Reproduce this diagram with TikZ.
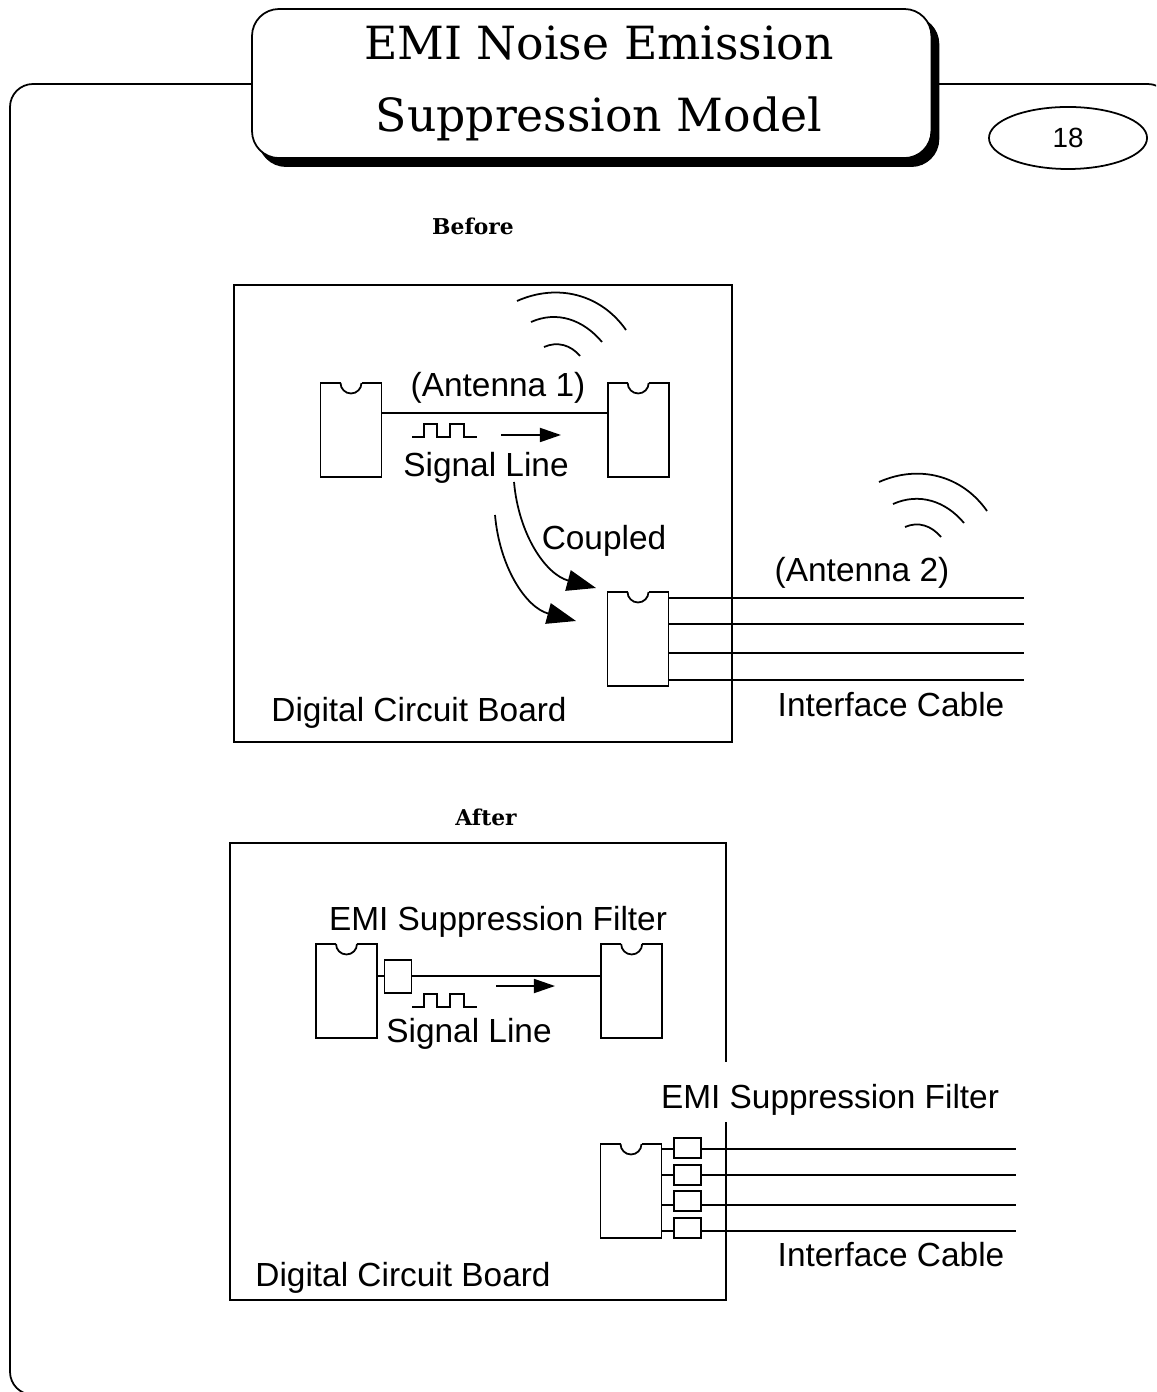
\documentclass[tikz,border=0pt]{standalone}
\usepackage{fontspec}
\setmainfont{Liberation Sans}
\newfontfamily\titlefont{DejaVu Serif}
\usetikzlibrary{positioning,arrows.meta,shadows,shapes.geometric}

\begin{document}
\begin{tikzpicture}[
  x=0.01cm, y=0.01cm,
  line width=0.5pt,
  node distance=0.07cm and 2.26cm,
  frame/.style={draw, rounded corners=0.23cm, outer sep=0, anchor=north west},
  titlebox/.style={draw, fill=white, rounded corners=0.27cm, outer sep=0, anchor=north west, minimum width=6.79cm, minimum height=1.49cm, inner sep=0,
    copy shadow={shadow xshift=0.07cm, shadow yshift=-0.08cm, fill=black, draw=black}},
  titletext/.style={inner sep=0, outer sep=0, align=center, font=\titlefont\fontsize{13}{20.5}\selectfont},
  pageoval/.style={draw, ellipse, outer sep=0, minimum width=1.58cm, minimum height=0.62cm, inner sep=0, font=\fontsize{7.9}{9}\selectfont},
  board/.style={draw, outer sep=0, anchor=north west, minimum height=4.57cm},
  chip/.style={draw, fill=white, outer sep=0, minimum width=0.61cm, minimum height=0.94cm},
  filterbox/.style={draw, fill=white, inner sep=0, outer sep=0, minimum width=0.27cm, minimum height=0.2cm},
  label/.style={inner sep=0, outer sep=0, anchor=base, font=\fontsize{9.5}{11}\selectfont},
  head/.style={inner sep=0, outer sep=0, anchor=base, font=\titlefont\bfseries\fontsize{6.2}{8}\selectfont},
  flow/.style={-{Triangle[length=0.21cm, width=0.14cm]}},
  coupling/.style={-{Triangle[length=0.29cm, width=0.21cm]}},
  pulse/.pic={\draw (0,0) -- ++(12,0) -- ++(0,13) -- ++(13,0) -- ++(0,-13) -- ++(13,0) -- ++(0,13) -- ++(14,0) -- ++(0,-13) -- ++(13,0);}
]
\useasboundingbox (0,0) rectangle (1156,-1392);
\clip (0,0) rectangle (1156,-1392);

\node[frame, minimum width=11.6cm, minimum height=13.1cm] (outline) at (10,-84) {};
\node[titlebox] (title) at (252,-9) {};
\node[titletext] (titlelines) at (599,-83) {EMI Noise Emission\\Suppression Model};
\node[pageoval] (page) at (1068,-138) {18};

% Before
\node[head] (before) at (473,-235) {Before};
\node[board, minimum width=4.98cm] (boardA) at (234,-285) {};
\node[chip] (chipA) at (351,-430) {};
\node[chip, right=of chipA] (chipB) {};
\node[chip] (chipC) at (638,-639) {};

\coordinate (lineA) at (500,-413);
\draw (chipA.east |- lineA) -- (chipB.west |- lineA);
\draw (412,-437) pic {pulse};
\coordinate (flowA) at (501,-435);
\coordinate (flowB) at (561,-435);
\draw[flow] (flowA) -- (flowB);

\node[label] (antennaA) at (498,-397) {(Antenna 1)};
\node[label] (signalA) at (486,-477) {Signal Line};
\node[label] (coupled) at (604,-550) {Coupled};
\node[label] (antennaB) at (862,-581) {(Antenna 2)};
\node[label] (cableA) at (891,-716) {Interface Cable};
\node[label] (digitalA) at (419,-721) {Digital Circuit Board};

\coordinate (tipA) at (596,-588);
\coordinate (tipB) at (576,-621);
\draw[coupling] (514,-482) to[out=-85, in=165] (tipA);
\draw[coupling] (495,-515) to[out=-85, in=165] (tipB);

\foreach \n/\y in {1/598,2/624,3/653,4/680}{
  \coordinate (wireA\n) at (1024,-\y);
  \draw (chipC.east |- wireA\n) -- (wireA\n);
}

\draw (517,-301) to[out=24, in=125] (626,-330);
\draw (531,-322) to[out=24, in=130] (602,-342);
\draw (544,-347) to[out=24, in=130] (580,-356);
\draw (879,-482) to[out=24, in=125] (987,-511);
\draw (893,-504) to[out=24, in=130] (964,-523);
\draw (905,-527) to[out=24, in=130] (941,-537);

% After
\node[head] (after) at (486,-825) {After};
\node[board, minimum width=4.96cm] (boardB) at (230,-843) {};
\node[chip] (chipD) at (346.5,-991) {};
\node[chip, right=2.24cm of chipD] (chipE) {};
\node[chip] (chipF) at (631,-1191) {};

\coordinate (lineB) at (500,-976);
\draw[line width=0.65pt] (chipD.east |- lineB) -- (chipE.west |- lineB);
\node[filterbox, minimum height=0.33cm] (filterA) at (398,-976.5) {};
\draw (412,-1007) pic {pulse};
\coordinate (flowC) at (496,-986);
\coordinate (flowD) at (555,-986);
\draw[flow] (flowC) -- (flowD);

\node[label] (emiA) at (498,-930) {EMI Suppression Filter};
\node[label] (signalB) at (469,-1042) {Signal Line};
\node[label, fill=white, text height=0.46cm, text depth=0.14cm] (emiB) at (830,-1108) {EMI Suppression Filter};
\node[label] (cableB) at (891,-1266) {Interface Cable};
\node[label] (digitalB) at (403,-1286) {Digital Circuit Board};

\foreach \n/\y in {1/1149,2/1175,3/1205,4/1231}{
  \coordinate (wireB\n) at (1016,-\y);
  \draw (chipF.east |- wireB\n) -- (wireB\n);
}
\node[filterbox] (filterB) at (687.5,-1148) {};
\node[filterbox, below=of filterB] (filterC) {};
\node[filterbox, below=0.06cm of filterC] (filterD) {};
\node[filterbox, below=of filterD] (filterE) {};

% notches on the chips
\foreach \c in {chipA,chipB,chipC,chipD,chipE,chipF}{
  \draw[white, line width=1pt] ([xshift=-0.105cm]\c.north) -- ([xshift=0.105cm]\c.north);
  \draw ([xshift=-0.105cm]\c.north) arc[start angle=180, end angle=360, radius=10.5];
}
\end{tikzpicture}
\end{document}
